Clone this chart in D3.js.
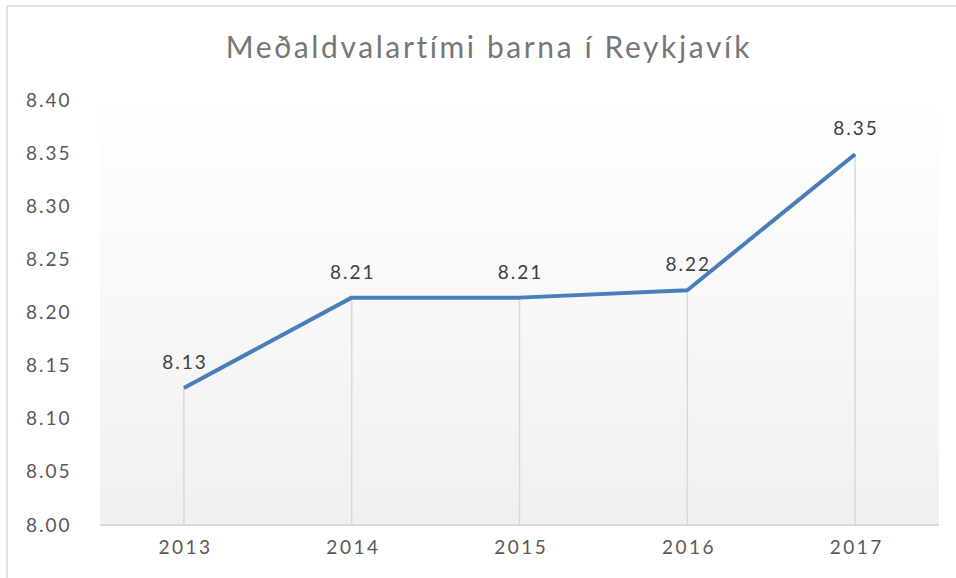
<!DOCTYPE html>
<html>
<head>
<meta charset="utf-8">
<script src="https://cdn.jsdelivr.net/npm/d3@7"></script>
<style>
  body { margin: 0; background: #fff; }
  svg { display: block; }
</style>
</head>
<body>
<script>
// data
const years = ['2013', '2014', '2015', '2016', '2017'];
const values = [8.129, 8.214, 8.214, 8.221, 8.349];
const yTicks = [8.0, 8.05, 8.1, 8.15, 8.2, 8.25, 8.3, 8.35, 8.4];
const title = 'Meðaldvalartími barna í Reykjavík';

const width = 956;
const height = 578;
const margin = { top: 100, right: 17, bottom: 53, left: 100 };
const font = "'Lato', 'Noto Sans', sans-serif";

const svg = d3.select('body').append('svg').attr('width', width).attr('height', height);

// chart frame
svg.append('rect')
  .attr('x', 7).attr('y', 6)
  .attr('width', width + 10).attr('height', height + 10)
  .attr('fill', '#fff')
  .attr('stroke', '#d9d9d9')
  .attr('stroke-width', 1.5);

const x = d3.scalePoint()
  .domain(years)
  .range([margin.left, width - margin.right])
  .padding(0.5);

const y = d3.scaleLinear()
  .domain([8.0, 8.4])
  .range([height - margin.bottom, margin.top]);

// plot background gradient
const grad = svg.append('defs').append('linearGradient')
  .attr('id', 'bg').attr('x1', 0).attr('y1', 0).attr('x2', 0).attr('y2', 1);
grad.append('stop').attr('offset', '0%').attr('stop-color', '#ffffff');
grad.append('stop').attr('offset', '100%').attr('stop-color', '#f0f0f0');

svg.append('rect')
  .attr('x', margin.left).attr('y', y(8.4))
  .attr('width', width - margin.right - margin.left)
  .attr('height', y(8.0) - y(8.4))
  .attr('fill', 'url(#bg)');

// title
svg.append('text')
  .attr('x', 489)
  .attr('y', 58)
  .attr('text-anchor', 'middle')
  .attr('font-family', font)
  .attr('font-size', '30px')
  .attr('letter-spacing', '2.6px')
  .attr('fill', '#767676')
  .text(title);

// y axis labels
svg.append('g')
  .attr('transform', `translate(${margin.left}, 0)`)
  .call(d3.axisLeft(y).tickValues(yTicks).tickFormat(d3.format('.2f')).tickSize(0))
  .call((g) => g.select('.domain').remove())
  .call((g) => g.selectAll('text')
    .attr('font-family', font)
    .attr('font-size', '19px')
    .attr('letter-spacing', '2px')
    .attr('fill', '#595959')
    .attr('text-anchor', 'start')
    .attr('x', -74));

// drop lines
svg.append('g')
  .selectAll('line')
  .data(years)
  .enter()
  .append('line')
  .attr('x1', (d) => x(d))
  .attr('x2', (d) => x(d))
  .attr('y1', (d, i) => y(values[i]))
  .attr('y2', y(8.0))
  .attr('stroke', '#d9d9d9')
  .attr('stroke-width', 1.5);

// x axis
svg.append('g')
  .attr('transform', `translate(0, ${y(8.0)})`)
  .call(d3.axisBottom(x).tickSize(0).tickPadding(16))
  .call((g) => g.select('.domain')
    .attr('stroke', '#d9d9d9')
    .attr('stroke-width', 2)
    .attr('d', `M${margin.left},0H${width - margin.right}`))
  .call((g) => g.selectAll('text')
    .attr('font-family', font)
    .attr('font-size', '19px')
    .attr('letter-spacing', '2.5px')
    .attr('dx', '1.2px')
    .attr('fill', '#595959'));

// line
const line = d3.line()
  .x((d, i) => x(years[i]))
  .y((d) => y(d));

svg.append('path')
  .datum(values)
  .attr('fill', 'none')
  .attr('stroke', '#4a7ebb')
  .attr('stroke-width', 4)
  .attr('stroke-linejoin', 'round')
  .attr('d', line);

// data labels
svg.append('g')
  .selectAll('text')
  .data(values)
  .enter()
  .append('text')
  .text((d) => d3.format('.2f')(d))
  .attr('x', (d, i) => x(years[i]) + 1)
  .attr('y', (d) => y(d) - 19)
  .attr('text-anchor', 'middle')
  .attr('font-family', font)
  .attr('font-size', '19px')
  .attr('letter-spacing', '2px')
  .attr('fill', '#404040');
</script>
</body>
</html>
